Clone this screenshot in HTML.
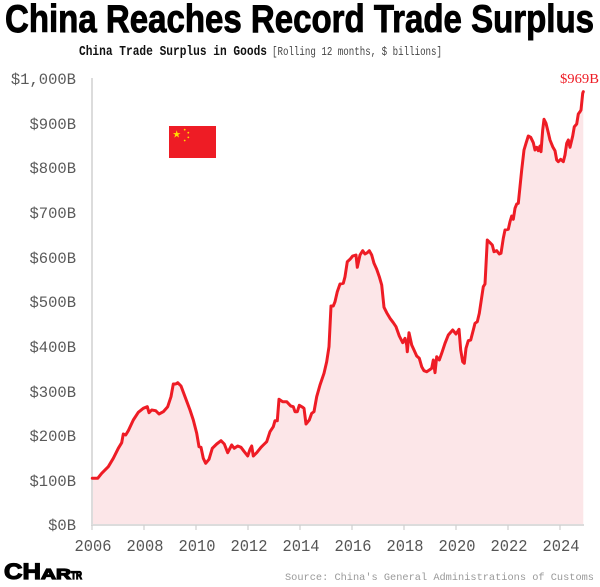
<!DOCTYPE html>
<html>
<head>
<meta charset="utf-8">
<style>
html,body{margin:0;padding:0;background:#fff;}
svg{display:block;}
</style>
</head>
<body>
<svg width="600" height="587" viewBox="0 0 600 587" xmlns="http://www.w3.org/2000/svg">
<rect width="600" height="587" fill="#fff"/>
<!-- Title -->
<text x="5" y="32" font-family="'Liberation Sans',sans-serif" font-weight="bold" font-size="39" fill="#000" stroke="#000" stroke-width="0.9" textLength="589" lengthAdjust="spacingAndGlyphs">China Reaches Record Trade Surplus</text>
<!-- Subtitle -->
<text x="79" y="55" font-family="'Liberation Mono',monospace" font-weight="bold" font-size="14" fill="#111" textLength="188" lengthAdjust="spacingAndGlyphs">China Trade Surplus in Goods</text>
<text x="272" y="55" font-family="'Liberation Mono',monospace" font-size="11.5" fill="#444" textLength="170" lengthAdjust="spacingAndGlyphs">[Rolling 12 months, $ billions]</text>

<!-- Fill area -->
<polygon fill="#fce6e8" points="92.3,478.3 97.7,478.3 101.7,473.3 108.3,466.7 113.3,458.3 118.3,448.3 121.7,442.7 123.3,434 125.7,435 128.3,430.7 133.3,420 138.3,412.3 143.3,408.3 147.3,406.7 149,412.7 151.7,410 155.7,410.7 159,414 163.3,411.7 167.7,406.7 171,396.7 173.3,384 175.7,384 177.7,382.7 181,386 185,396.7 190,410 193.3,420 196.7,433.3 199,446.7 201,447.3 203.3,458.3 205.7,463.3 209,459.3 212.3,448.3 216.7,444 221,440.7 224.3,444 227.7,452.7 231.7,445 234.3,448.3 237.7,446 241,447.3 244.3,451.7 247.7,456 250,449.3 251.7,446 253.3,456 256.7,452.7 261,447.3 263.3,445 266.7,441.7 270,431.7 273.3,426.7 275,420.7 277.3,420.7 279,399.3 282.7,401.7 286.7,401.7 290.7,406 293.3,406.7 295,411.7 297.3,411.7 299.3,405.3 302.7,407.3 304,408.3 306,424 309.3,420 311.7,413.3 314,411.7 316.7,396.7 320,385 324,373.3 326.7,361.7 329,346.7 331,306 333.3,306 335,301.7 337.3,291.7 340,284 343.3,283.3 345,276.7 347.3,261.7 350,259.3 352.7,256 356,255 357.3,267.3 360,255 362.7,250.7 365,254 367.3,252.7 369.3,250.7 371.7,255 374,263.3 376.7,269.3 379.3,276.7 381.7,285 384,307.3 386.7,312.7 390,318.3 393.3,322.7 396,326.7 399.3,336 402.7,342.7 405,338.3 406.7,345 407.3,351.7 409,332.7 411.7,345 414,350 416.7,356 419.3,358.3 421.7,366.7 424,370.7 426.7,371.7 429.3,370 431.7,368.3 433.3,360 435,372.7 436.7,356.7 439.3,360 441.7,353.3 445,343.3 448.3,335 452.7,330 456,334 459,329.3 460.7,350 462.7,361.7 464.3,363.3 466,348.3 468.3,340.7 470.7,340 473.3,330 475,323.3 477.3,321.7 479.3,313.3 481.7,297.3 483.3,286.7 485,284 487.3,240 490,242.7 492.3,245 494,251.7 496.7,250.7 499.3,254 501,253.3 503.3,238.3 505,230 508.3,229.3 510,221.7 511.7,216 513.3,219.3 515,208.3 516.7,204 518.3,203.3 520,186.7 521.7,170 524,150 526,143.3 528.3,136 530.7,137.3 533.3,142.7 535,150 536.7,147.3 538.3,150.7 540,146 541,151.7 542.7,130 544,119.3 546,123.3 548.3,132.7 550,140 552.7,146.7 555,150.7 556.7,160 558.3,161.7 560.7,159.3 563.3,161.7 565,155 566.7,143.3 568.3,140 570,147.3 572.7,136 574.3,126.7 576.7,124 578.3,114 580,111.7 581,110 582.7,93.3 583.3,91.7 583.3,525 92.3,525"/>

<!-- Axes -->
<line x1="92" y1="78" x2="92" y2="526" stroke="#dcdcdc" stroke-width="2"/>
<line x1="91" y1="525" x2="584" y2="525" stroke="#dcdcdc" stroke-width="2"/>
<g stroke="#cfcfcf" stroke-width="1.2">
<line x1="92" y1="525" x2="92" y2="530"/>
<line x1="144" y1="525" x2="144" y2="530"/>
<line x1="196" y1="525" x2="196" y2="530"/>
<line x1="248" y1="525" x2="248" y2="530"/>
<line x1="300" y1="525" x2="300" y2="530"/>
<line x1="352" y1="525" x2="352" y2="530"/>
<line x1="404" y1="525" x2="404" y2="530"/>
<line x1="456" y1="525" x2="456" y2="530"/>
<line x1="508" y1="525" x2="508" y2="530"/>
<line x1="560" y1="525" x2="560" y2="530"/>
</g>

<!-- Line -->
<polyline fill="none" stroke="#ee1c25" stroke-width="3" stroke-linejoin="round" stroke-linecap="round" points="92.3,478.3 97.7,478.3 101.7,473.3 108.3,466.7 113.3,458.3 118.3,448.3 121.7,442.7 123.3,434 125.7,435 128.3,430.7 133.3,420 138.3,412.3 143.3,408.3 147.3,406.7 149,412.7 151.7,410 155.7,410.7 159,414 163.3,411.7 167.7,406.7 171,396.7 173.3,384 175.7,384 177.7,382.7 181,386 185,396.7 190,410 193.3,420 196.7,433.3 199,446.7 201,447.3 203.3,458.3 205.7,463.3 209,459.3 212.3,448.3 216.7,444 221,440.7 224.3,444 227.7,452.7 231.7,445 234.3,448.3 237.7,446 241,447.3 244.3,451.7 247.7,456 250,449.3 251.7,446 253.3,456 256.7,452.7 261,447.3 263.3,445 266.7,441.7 270,431.7 273.3,426.7 275,420.7 277.3,420.7 279,399.3 282.7,401.7 286.7,401.7 290.7,406 293.3,406.7 295,411.7 297.3,411.7 299.3,405.3 302.7,407.3 304,408.3 306,424 309.3,420 311.7,413.3 314,411.7 316.7,396.7 320,385 324,373.3 326.7,361.7 329,346.7 331,306 333.3,306 335,301.7 337.3,291.7 340,284 343.3,283.3 345,276.7 347.3,261.7 350,259.3 352.7,256 356,255 357.3,267.3 360,255 362.7,250.7 365,254 367.3,252.7 369.3,250.7 371.7,255 374,263.3 376.7,269.3 379.3,276.7 381.7,285 384,307.3 386.7,312.7 390,318.3 393.3,322.7 396,326.7 399.3,336 402.7,342.7 405,338.3 406.7,345 407.3,351.7 409,332.7 411.7,345 414,350 416.7,356 419.3,358.3 421.7,366.7 424,370.7 426.7,371.7 429.3,370 431.7,368.3 433.3,360 435,372.7 436.7,356.7 439.3,360 441.7,353.3 445,343.3 448.3,335 452.7,330 456,334 459,329.3 460.7,350 462.7,361.7 464.3,363.3 466,348.3 468.3,340.7 470.7,340 473.3,330 475,323.3 477.3,321.7 479.3,313.3 481.7,297.3 483.3,286.7 485,284 487.3,240 490,242.7 492.3,245 494,251.7 496.7,250.7 499.3,254 501,253.3 503.3,238.3 505,230 508.3,229.3 510,221.7 511.7,216 513.3,219.3 515,208.3 516.7,204 518.3,203.3 520,186.7 521.7,170 524,150 526,143.3 528.3,136 530.7,137.3 533.3,142.7 535,150 536.7,147.3 538.3,150.7 540,146 541,151.7 542.7,130 544,119.3 546,123.3 548.3,132.7 550,140 552.7,146.7 555,150.7 556.7,160 558.3,161.7 560.7,159.3 563.3,161.7 565,155 566.7,143.3 568.3,140 570,147.3 572.7,136 574.3,126.7 576.7,124 578.3,114 580,111.7 581,110 582.7,93.3 583.3,91.7"/>

<!-- End label -->
<text x="560" y="83" font-family="'Liberation Serif',serif" font-size="14" fill="#ee1c25" textLength="39" lengthAdjust="spacingAndGlyphs">$969B</text>

<!-- Y labels -->
<g font-family="'Liberation Mono',monospace" font-size="15.5" fill="#5a5a5a" text-anchor="end">
<text x="76" y="84">$1,000B</text>
<text x="76" y="129">$900B</text>
<text x="76" y="173">$800B</text>
<text x="76" y="218">$700B</text>
<text x="76" y="263">$600B</text>
<text x="76" y="307">$500B</text>
<text x="76" y="352">$400B</text>
<text x="76" y="397">$300B</text>
<text x="76" y="441">$200B</text>
<text x="76" y="486">$100B</text>
<text x="76" y="530">$0B</text>
</g>

<!-- X labels -->
<g font-family="'Liberation Mono',monospace" font-size="17" fill="#555" text-anchor="middle">
<text x="93" y="551" textLength="37" lengthAdjust="spacingAndGlyphs">2006</text>
<text x="145" y="551" textLength="37" lengthAdjust="spacingAndGlyphs">2008</text>
<text x="197" y="551" textLength="37" lengthAdjust="spacingAndGlyphs">2010</text>
<text x="249" y="551" textLength="37" lengthAdjust="spacingAndGlyphs">2012</text>
<text x="301" y="551" textLength="37" lengthAdjust="spacingAndGlyphs">2014</text>
<text x="353" y="551" textLength="37" lengthAdjust="spacingAndGlyphs">2016</text>
<text x="405" y="551" textLength="37" lengthAdjust="spacingAndGlyphs">2018</text>
<text x="457" y="551" textLength="37" lengthAdjust="spacingAndGlyphs">2020</text>
<text x="509" y="551" textLength="37" lengthAdjust="spacingAndGlyphs">2022</text>
<text x="561" y="551" textLength="37" lengthAdjust="spacingAndGlyphs">2024</text>
</g>

<!-- Flag -->
<rect x="169" y="126" width="47" height="32" fill="#ee1c25"/>
<polygon fill="#ffde00" points="176.7,130.3 177.6,133.1 180.5,133.1 178.2,134.8 179.1,137.6 176.7,135.9 174.3,137.6 175.2,134.8 172.9,133.1 175.8,133.1"/>
<circle cx="184.7" cy="129.7" r="0.9" fill="#ffde00"/>
<circle cx="188.3" cy="132.7" r="0.9" fill="#ffde00"/>
<circle cx="188.3" cy="137.4" r="0.9" fill="#ffde00"/>
<circle cx="184.7" cy="140.5" r="0.9" fill="#ffde00"/>

<!-- Logo -->
<text x="4" y="579" font-family="'Liberation Sans',sans-serif" font-weight="bold" fill="#000" stroke="#000" stroke-width="1.2"><tspan font-size="22" textLength="37" lengthAdjust="spacingAndGlyphs">CH</tspan><tspan font-size="15" textLength="30" lengthAdjust="spacingAndGlyphs">AR</tspan><tspan font-size="11" textLength="11" lengthAdjust="spacingAndGlyphs">TR</tspan></text>

<!-- Source -->
<text x="594" y="580" text-anchor="end" font-family="'Liberation Mono',monospace" font-size="10.5" fill="#999" textLength="309" lengthAdjust="spacingAndGlyphs">Source: China's General Administrations of Customs</text>
</svg>
</body>
</html>
